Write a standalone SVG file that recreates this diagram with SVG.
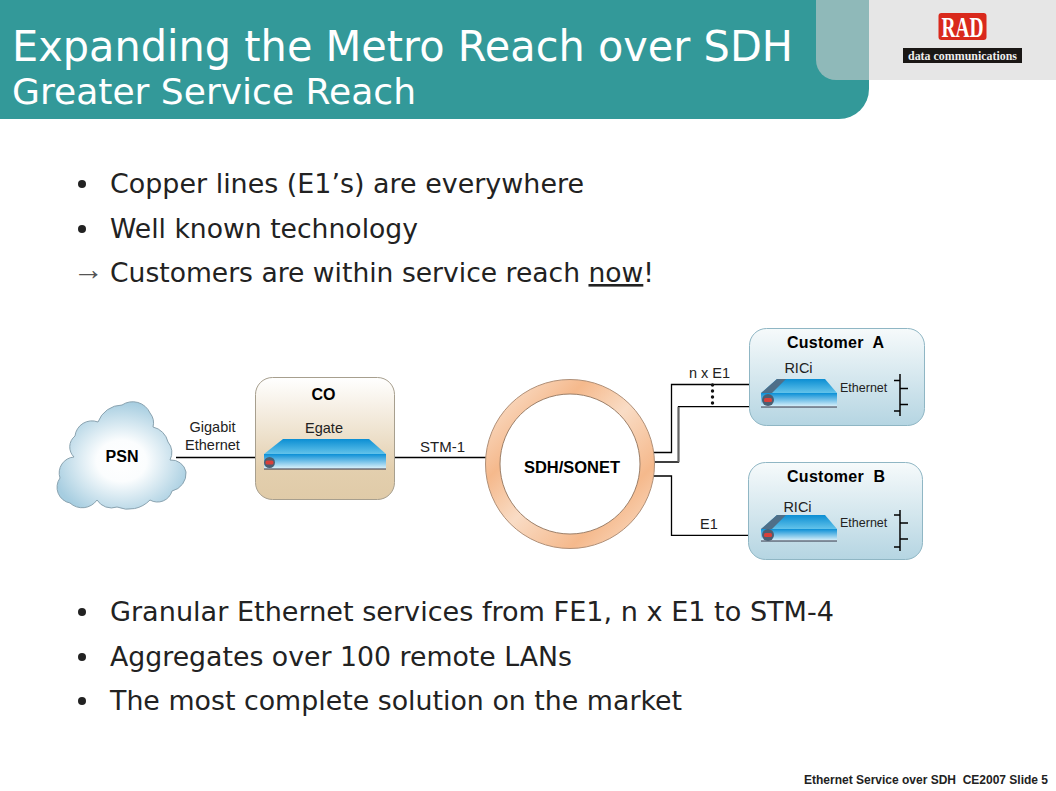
<svg xmlns="http://www.w3.org/2000/svg" width="1056" height="791" viewBox="0 0 1056 791">
<style>
.v{font-family:"DejaVu Sans","Liberation Sans",sans-serif;fill:#222}
.t{fill:#fff;font-family:"DejaVu Sans","Liberation Sans",sans-serif}
.a{font-family:"Liberation Sans",Arial,sans-serif;fill:#222;font-size:14.5px}
.e{font-family:"Liberation Sans",Arial,sans-serif;fill:#222;font-size:12.500px}
.b{font-family:"Liberation Sans",Arial,sans-serif;fill:#000;font-size:16px;font-weight:bold;text-anchor:middle}
.m{text-anchor:middle}
.l{fill:none;stroke:#000;stroke-width:1.300}
.bul{font-size:26px}
.d{fill:#222}
.cb{stroke:#8fb6c4;stroke-width:1;fill:url(#cust)}
</style>
<defs>
<linearGradient id="cust" x1="0" y1="0" x2="0" y2="1"><stop offset="0" stop-color="#f6fafb"/><stop offset="1" stop-color="#b5d5e2"/></linearGradient>
<linearGradient id="co" x1="0" y1="0" x2="0" y2="1"><stop offset="0" stop-color="#fff"/><stop offset=".75" stop-color="#e3cfae"/><stop offset="1" stop-color="#e0cba8"/></linearGradient>
<linearGradient id="front" x1="0" y1="0" x2="0" y2="1"><stop offset="0" stop-color="#0a8fd6"/><stop offset="1" stop-color="#e2f4fb"/></linearGradient>
<linearGradient id="top" x1="0" y1="0" x2="0" y2="1"><stop offset="0" stop-color="#0b8ed3"/><stop offset="1" stop-color="#63c3ea"/></linearGradient>
<linearGradient id="ring" x1="0" y1="0" x2="1" y2="1"><stop offset="0" stop-color="#fbeadd"/><stop offset=".3" stop-color="#f5b98c"/><stop offset=".5" stop-color="#f9dcc5"/><stop offset=".75" stop-color="#f5b98c"/><stop offset="1" stop-color="#fbe3d0"/></linearGradient>
<radialGradient id="cloud" cx=".5" cy=".55" r=".55"><stop offset="0" stop-color="#fff"/><stop offset=".35" stop-color="#fbfdfe"/><stop offset="1" stop-color="#a6cde0"/></radialGradient>
</defs>
<rect width="1056" height="791" fill="#fff"/>
<g id="header">
<path d="M0 0H869V89A30 30 0 0 1 839 119H0Z" fill="#339999"/>
<rect x="869" y="0" width="187" height="80" fill="#e6e6e6"/>
<path d="M816 0H869V80H836A20 20 0 0 1 816 60Z" fill="#8fb9b9"/>
<text class="t" x="12" y="61" font-size="43" textLength="781" lengthAdjust="spacingAndGlyphs">Expanding the Metro Reach over SDH</text>
<text class="t" x="12" y="104" font-size="36" textLength="404" lengthAdjust="spacingAndGlyphs">Greater Service Reach</text>
</g>
<g id="logo">
<rect x="938.500" y="13" width="48" height="27" rx="3" fill="#d9291c"/>
<text x="962.500" y="37" text-anchor="middle" font-family="Liberation Serif,serif" font-weight="bold" font-size="30" fill="#fff" textLength="42" lengthAdjust="spacingAndGlyphs">RAD</text>
<rect x="903" y="48" width="119" height="15" fill="#1a1715"/>
<text x="962.500" y="60" text-anchor="middle" font-family="Liberation Serif,serif" font-weight="bold" font-size="13" fill="#eee" textLength="109" lengthAdjust="spacingAndGlyphs">data communications</text>
</g>
<g id="bullets-top">
<circle class="d" cx="82" cy="184" r="4"/>
<text class="v bul" x="110" y="193" textLength="474" lengthAdjust="spacingAndGlyphs">Copper lines (E1’s) are everywhere</text>
<circle class="d" cx="82" cy="229" r="4"/>
<text class="v bul" x="110" y="238" textLength="308" lengthAdjust="spacingAndGlyphs">Well known technology</text>
<text x="73" y="280" font-family="Liberation Sans,sans-serif" font-size="31" fill="#555">→</text>
<text class="v bul" x="110" y="282" textLength="544" lengthAdjust="spacingAndGlyphs">Customers are within service reach <tspan text-decoration="underline">now</tspan>!</text>
</g>
<g id="connectors">
<path class="l" d="M176 457.500H264M386 457.500H486"/>
<path class="l" d="M653 452.500H671.500V384.500H772"/>
<path class="l" d="M653 462H678.500V406.700H762"/>
<path d="M678.500 462V407" fill="none" stroke="#666" stroke-width="2"/>
<path class="l" d="M653 476H671.500V535.300H762"/>
<path class="l" d="M837 395.300H900M837 530.300H900"/>
<g fill="#111"><circle cx="712.500" cy="385" r="1.700"/><circle cx="712.500" cy="391" r="1.700"/><circle cx="712.500" cy="397" r="1.700"/><circle cx="712.500" cy="403" r="1.700"/></g>
</g>
<g id="PSN">
<path d="M75 436A17 17 0 0 1 98 422A26 26 0 0 1 122 405A19 19 0 0 1 150 413A16 16 0 0 1 153 427A20 20 0 0 1 168 442A16 16 0 0 1 170 460A15 15 0 0 1 186 472A18 18 0 0 1 172 491A15 15 0 0 1 150 500A30 30 0 0 1 117 507A17 17 0 0 1 97 500A18 18 0 0 1 70 503A16 16 0 0 1 60 478A16 16 0 0 1 74 457A14 14 0 0 1 75 436Z" fill="url(#cloud)" stroke="#8aa3b0" stroke-width="1"/>
<text class="b" x="122" y="462">PSN</text>
</g>
<g id="CO">
<rect x="255.500" y="377.500" width="139" height="122" rx="17" fill="url(#co)" stroke="#a79f8e"/>
<text class="b" x="323.500" y="400">CO</text>
<text class="a m" x="324" y="433">Egate</text>
<polygon points="264,454 283,439 369,439 386,454" fill="url(#top)"/>
<rect x="264" y="454" width="122" height="15" fill="url(#front)"/>
<path d="M264 469H386" stroke="#334" stroke-width="1"/>
<circle cx="269.500" cy="462.500" r="5.500" fill="#4b5f72"/>
<rect x="265.500" y="460.500" width="8" height="4" rx="1.500" fill="#d9403a"/>
<text class="a m" x="212.500" y="432">Gigabit</text>
<text class="a m" x="212.500" y="450">Ethernet</text>
<text class="a" x="420" y="452" textLength="45" lengthAdjust="spacingAndGlyphs">STM-1</text>
</g>
<g id="SDH-SONET">
<path fill-rule="evenodd" d="M485.500 464A84.500 84.500 0 1 1 654.500 464A84.500 84.500 0 1 1 485.500 464ZM500 464A70 70 0 1 0 640 464A70 70 0 1 0 500 464Z" fill="url(#ring)"/>
<circle cx="570" cy="464" r="84.500" fill="none" stroke="#b09078" stroke-width="1"/>
<circle cx="570" cy="464" r="70" fill="none" stroke="#9c7f68" stroke-width="1"/>
<text class="b" x="572" y="473" textLength="96" lengthAdjust="spacingAndGlyphs">SDH/SONET</text>
</g>
<g id="customer-A">
<rect class="cb" x="749.500" y="328.500" width="175" height="97" rx="17"/>
<text class="b" x="835.500" y="348" xml:space="preserve" textLength="97" lengthAdjust="spacing">Customer  A</text>
<text class="a m" x="798.500" y="373">RICi</text>
<polygon points="761,393 777,379 825,379 837,393" fill="url(#top)"/>
<polygon points="761,393 777,379 786,379 772,393" fill="#4f6f88"/>
<rect x="761" y="393" width="76" height="14" fill="url(#front)"/>
<path d="M761 407H837" stroke="#334" stroke-width="1"/>
<circle cx="768" cy="400" r="6" fill="#4b5f72"/>
<rect x="764" y="398" width="8" height="4" rx="1.500" fill="#d9403a"/>
<text class="e" x="840" y="392">Ethernet</text>
<path d="M900 374V416" stroke="#111" stroke-width="1.600" fill="none"/>
<path class="l" d="M894 380.500H900M900 388.500H908M900 404.500H908M894 411H900"/>
</g>
<g id="customer-B">
<rect class="cb" x="748.500" y="462.500" width="174" height="97" rx="17"/>
<text class="b" x="836" y="482" xml:space="preserve" textLength="98" lengthAdjust="spacing">Customer  B</text>
<text class="a m" x="797.500" y="512">RICi</text>
<polygon points="761,529 777,515 825,515 837,529" fill="url(#top)"/>
<polygon points="761,529 777,515 786,515 772,529" fill="#4f6f88"/>
<rect x="761" y="529" width="76" height="12" fill="url(#front)"/>
<path d="M761 541H837" stroke="#334" stroke-width="1"/>
<circle cx="768" cy="535" r="6" fill="#4b5f72"/>
<rect x="764" y="533" width="8" height="4" rx="1.500" fill="#d9403a"/>
<text class="e" x="840" y="527">Ethernet</text>
<path d="M900 510V551" stroke="#111" stroke-width="1.600" fill="none"/>
<path class="l" d="M894 515H900M900 523H908M900 539H908M894 547H900"/>
</g>
<g id="labels">
<text class="a" x="689" y="378" textLength="41" lengthAdjust="spacing">n x E1</text>
<text class="a" x="700" y="529">E1</text>
</g>
<g id="bullets-bottom">
<circle class="d" cx="82" cy="612" r="4"/>
<text class="v bul" x="110" y="621" textLength="724" lengthAdjust="spacingAndGlyphs">Granular Ethernet services from FE1, n x E1 to STM-4</text>
<circle class="d" cx="82" cy="657" r="4"/>
<text class="v bul" x="110" y="666" textLength="462" lengthAdjust="spacingAndGlyphs">Aggregates over 100 remote LANs</text>
<circle class="d" cx="82" cy="701" r="4"/>
<text class="v bul" x="110" y="710" textLength="572" lengthAdjust="spacingAndGlyphs">The most complete solution on the market</text>
</g>
<text id="footer" x="804" y="784" font-family="Liberation Sans,Arial,sans-serif" font-weight="bold" font-size="12" fill="#222" textLength="244" lengthAdjust="spacing" xml:space="preserve">Ethernet Service over SDH  CE2007 Slide 5</text>
</svg>
